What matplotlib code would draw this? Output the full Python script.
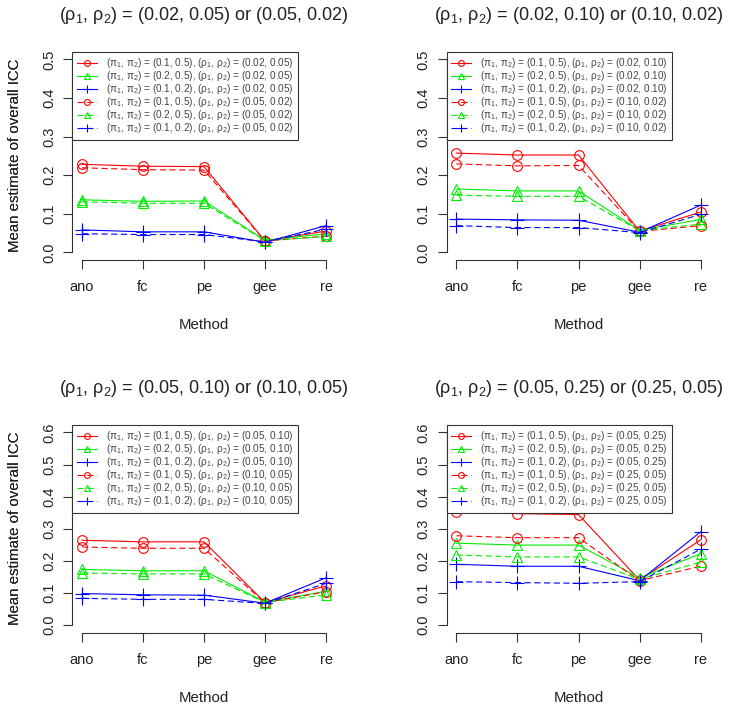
import matplotlib
matplotlib.use("Agg")
import matplotlib.pyplot as plt

plt.rcParams["font.family"] = ["Liberation Sans", "DejaVu Sans"]
plt.rcParams["mathtext.default"] = "regular"
plt.rcParams["lines.scale_dashes"] = False

# methods on the x axis
methods = ["ano", "fc", "pe", "gee", "re"]
pi_pairs = ["(0.1, 0.5)", "(0.2, 0.5)", "(0.1, 0.2)"]

# (rho1, rho2) settings per panel: first = solid lines, second = dashed lines
rho_first = ["(0.02, 0.05)", "(0.02, 0.10)", "(0.05, 0.10)", "(0.05, 0.25)"]
rho_second = ["(0.05, 0.02)", "(0.10, 0.02)", "(0.10, 0.05)", "(0.25, 0.05)"]
y_max = [0.5, 0.5, 0.6, 0.6]

# mean ICC estimates, rows: red/green/blue solid then red/green/blue dashed
icc_02_05 = [
    [0.228, 0.223, 0.222, 0.029, 0.055],
    [0.136, 0.132, 0.133, 0.031, 0.048],
    [0.058, 0.053, 0.053, 0.026, 0.069],
    [0.219, 0.214, 0.213, 0.029, 0.042],
    [0.131, 0.127, 0.127, 0.030, 0.041],
    [0.048, 0.046, 0.046, 0.027, 0.060],
]
icc_02_10 = [
    [0.257, 0.252, 0.252, 0.055, 0.104],
    [0.164, 0.159, 0.159, 0.057, 0.085],
    [0.086, 0.084, 0.083, 0.052, 0.122],
    [0.229, 0.224, 0.225, 0.054, 0.069],
    [0.148, 0.145, 0.145, 0.056, 0.073],
    [0.069, 0.064, 0.064, 0.051, 0.098],
]
icc_05_10 = [
    [0.264, 0.259, 0.259, 0.070, 0.122],
    [0.173, 0.169, 0.169, 0.071, 0.105],
    [0.098, 0.094, 0.093, 0.068, 0.147],
    [0.243, 0.239, 0.239, 0.069, 0.104],
    [0.162, 0.159, 0.159, 0.070, 0.094],
    [0.083, 0.080, 0.080, 0.067, 0.130],
]
icc_05_25 = [
    [0.353, 0.347, 0.344, 0.140, 0.265],
    [0.255, 0.249, 0.249, 0.147, 0.222],
    [0.189, 0.183, 0.183, 0.138, 0.290],
    [0.278, 0.272, 0.272, 0.138, 0.183],
    [0.218, 0.212, 0.212, 0.142, 0.196],
    [0.135, 0.132, 0.130, 0.135, 0.236],
]
panels = [icc_02_05, icc_02_10, icc_05_10, icc_05_25]

colors = ["#ff0000", "#00ee00", "#0000ff"]
markers = ["o", "^", "+"]
msizes = [7.0, 7.0, 10.0]
styles = ["-", (0, (4.5, 2.5))]
INK = "#333333"

W, H = 729, 711
# plot regions in pixels (left, top, right, bottom)
boxes = [(72.2, 51.6, 335.8, 260.0), (446.7, 51.6, 710.3, 260.0),
         (72.2, 424.7, 335.8, 632.7), (446.7, 424.7, 710.3, 632.7)]

fig = plt.figure(figsize=(W / 100, H / 100), dpi=100)
x = list(range(1, len(methods) + 1))

for p, data in enumerate(panels):
    l, t, r, b = boxes[p]
    ax = fig.add_axes([l / W, 1 - b / H, (r - l) / W, (b - t) / H])
    for k, vals in enumerate(data):
        c = k % 3
        rho = rho_first[p] if k < 3 else rho_second[p]
        label = "($\\pi_1$, $\\pi_2$) = %s, ($\\rho_1$, $\\rho_2$) = %s" % (pi_pairs[c], rho)
        ax.plot(x, vals, color=colors[c], marker=markers[c], ms=msizes[c],
                mfc="none", mew=0.8, lw=0.8, ls=styles[k // 3], label=label)

    ym = y_max[p]
    ax.set_xlim(0.84, 5.16)
    ax.set_ylim(-0.04 * ym, 1.04 * ym)
    ax.set_xticks(x)
    ax.set_xticklabels(methods)
    ticks = [i / 10 for i in range(int(round(ym * 10)) + 1)]
    ax.set_yticks(ticks)
    ax.set_yticklabels(["%.1f" % v for v in ticks])
    for side in ["top", "right"]:
        ax.spines[side].set_visible(False)
    ax.spines["left"].set_bounds(0, ym)
    ax.spines["bottom"].set_bounds(1, 5)
    for side in ["left", "bottom"]:
        ax.spines[side].set_color(INK)
        ax.spines[side].set_linewidth(0.8)
    ax.tick_params(length=6.5, width=0.8, color=INK, labelcolor="#222222", labelsize=10.5)
    ax.tick_params(axis="x", pad=8)
    ax.tick_params(axis="y", labelrotation=90, pad=5)
    for lab in ax.get_yticklabels():
        lab.set_va("center")

    ax.set_xlabel("Method", fontsize=10.8, color="#222222")
    ax.xaxis.label.set_va("center")
    ax.xaxis.set_label_coords(0.5, -65 / (b - t))
    ax.set_ylabel("Mean estimate of overall ICC", fontsize=10.8, color="#222222")
    ax.yaxis.label.set_va("center")
    ax.yaxis.set_label_coords(-(l - 15) / (r - l), 0.5)

    title = "($\\rho_1$, $\\rho_2$) = %s or %s" % (rho_first[p], rho_second[p])
    ax.set_title(title, fontsize=13, color="#222222", y=1 + 36.6 / (b - t), pad=0, va="center")

    leg = ax.legend(loc="upper left", bbox_to_anchor=(0, 1), borderaxespad=0,
                    fontsize=7.2, markerscale=0.6, handlelength=2.0, handletextpad=0.9,
                    labelspacing=-0.1, borderpad=0.45, fancybox=False, framealpha=1,
                    edgecolor=INK)
    leg.get_frame().set_linewidth(0.8)
    for txt in leg.get_texts():
        txt.set_color("#444444")

fig.savefig("out.png", dpi=100)
